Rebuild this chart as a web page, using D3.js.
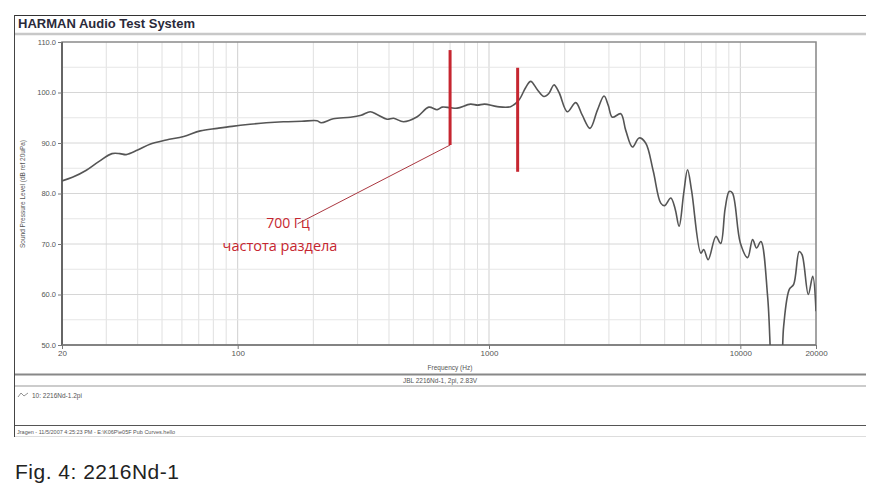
<!DOCTYPE html>
<html><head><meta charset="utf-8">
<script src="https://cdn.jsdelivr.net/npm/d3@7"></script>
<style>
body{margin:0;background:#fff;}
svg{display:block;font-family:"Liberation Sans",Arial,sans-serif;}
</style></head>
<body><svg id="c" width="880" height="490"></svg>
<script>
const freqs = [20,22,25,28,31.6,34,36,40,45,52,61,71,83,95,112,130,152,180,207,215,240,281,310,337,360,393,417,457,518,576,622,651,700,747,844,900,960,1079,1218,1315,1400,1465,1560,1655,1730,1813,1900,2050,2213,2350,2523,2700,2869,2980,3097,3343,3500,3722,3954,4200,4500,4823,5000,5287,5500,5707,5950,6165,6400,6966,7150,7447,7993,8350,8700,9030,9300,10000,10690,11190,11600,12070,12840,13300,13800,14400,14870,15660,16300,17150,17600,18640,19410,20000];
const spl = [82.5,83.2,84.6,86.3,87.9,87.9,87.7,88.6,89.8,90.6,91.3,92.4,92.9,93.3,93.7,94.0,94.2,94.3,94.4,94.0,94.8,95.1,95.5,96.2,95.6,94.7,94.9,94.2,95.2,97.1,96.6,97.1,97.0,96.9,97.7,97.5,97.7,97.2,97.2,98.5,101.0,102.2,100.5,99.2,99.8,101.5,100.0,96.2,98.0,95.5,92.9,96.5,99.3,97.5,95.1,95.8,92.5,89.2,91.0,90.0,84.5,78.1,77.6,79.1,77.0,73.5,80.0,84.7,80.5,68.2,68.9,66.9,71.5,70.1,77.0,80.4,80.1,70.2,67.3,70.9,69.2,70.5,59.6,45,38,40,53.7,61.0,62.0,68.5,67.9,60.0,63.6,56.7];
const xTickValues = [20,100,1000,10000,20000];
const xGridValues = [20,30,40,50,60,70,80,90,100,200,300,400,500,600,700,800,900,1000,2000,3000,4000,5000,6000,7000,8000,9000,10000,20000];
const yTickValues = [50,60,70,80,90,100,110];
const yGridValues = [55,60,65,70,75,80,85,90,95,100,105];
// crossover markers: [freq, dB from, dB to]
const markerLines = [[700,108.4,89.6],[1300,104.9,84.3]];
const pointerLine = [[700,89.6],[173,74.0]];
const annotationTexts = ["700 Гц","частота раздела"];
const titleText = "HARMAN Audio Test System";
const xLabel = "Frequency (Hz)";
const yLabel = "Sound Pressure Level (dB ref 20uPa)";
const chartTitle = "JBL 2216Nd-1, 2pi, 2.83V";
const legendText = "10: 2216Nd-1.2pi";
const statusText = "Jragen - 11/5/2007 4:25:23 PM - E:\\K06P\\e05F Pub Curves.hello";
const caption = "Fig. 4: 2216Nd-1";

const svg = d3.select("#c");
const L=62, R=816, T=42, B=345;
const x = d3.scaleLog().domain([20,20000]).range([L,R]);
const y = d3.scaleLinear().domain([50,110]).range([B,T]);

// window frame
svg.append("line").attr("x1",14).attr("x2",866).attr("y1",15.5).attr("y2",15.5).attr("stroke","#333").attr("stroke-width",1);
svg.append("line").attr("x1",14.5).attr("x2",14.5).attr("y1",15).attr("y2",437).attr("stroke","#444").attr("stroke-width",1);
svg.append("text").attr("x",18).attr("y",28).attr("font-size",13).attr("font-weight","bold").attr("fill","#2a2a3a").text(titleText);
svg.append("line").attr("x1",15).attr("x2",866).attr("y1",34).attr("y2",34).attr("stroke","#c8c8c8").attr("stroke-width",2.5);

// grid
const g = svg.append("g");
g.selectAll(".vg").data(xGridValues).join("line")
  .attr("x1",d=>x(d)).attr("x2",d=>x(d)).attr("y1",T).attr("y2",B)
  .attr("stroke",d=>[100,1000,10000].includes(d)?"#cfcfcf":"#e0e0e0").attr("stroke-width",1);
g.selectAll(".hg").data(yGridValues).join("line")
  .attr("x1",L).attr("x2",R).attr("y1",d=>y(d)).attr("y2",d=>y(d))
  .attr("stroke",d=>d%10===0?"#d6d6d6":"#e6e6e6").attr("stroke-width",1);

// frame
svg.append("rect").attr("x",L).attr("y",T).attr("width",R-L).attr("height",B-T).attr("fill","none").attr("stroke","#8a8a8a").attr("stroke-width",1.5);
svg.append("line").attr("x1",L).attr("x2",L).attr("y1",T).attr("y2",B).attr("stroke","#666").attr("stroke-width",2);
svg.append("line").attr("x1",L).attr("x2",R).attr("y1",B).attr("y2",B).attr("stroke","#777").attr("stroke-width",1.5);

// axes
const yAxis = d3.axisLeft(y).tickValues(yTickValues).tickFormat(d3.format(".1f")).tickSize(4);
const ya = svg.append("g").attr("transform",`translate(${L},0)`).call(yAxis);
ya.select(".domain").remove();
ya.selectAll("line").attr("stroke","#777");
ya.selectAll("text").attr("font-size",7.5).attr("fill","#555").attr("x",-6);
const xAxis = d3.axisBottom(x).tickValues(xTickValues).tickFormat(d3.format("d")).tickSize(4);
const xa = svg.append("g").attr("transform",`translate(0,${B})`).call(xAxis);
xa.select(".domain").remove();
xa.selectAll("line").attr("stroke","#777");
xa.selectAll("text").attr("font-size",8).attr("fill","#555").attr("dy","0.55em");

svg.append("text").attr("x",450).attr("y",370).attr("text-anchor","middle").attr("font-size",6.5).attr("fill","#555").text(xLabel);
svg.append("text").attr("transform","translate(25,194) rotate(-90)").attr("text-anchor","middle").attr("font-size",6.5).attr("fill","#555").text(yLabel);

// curve
svg.append("clipPath").attr("id","clip").append("rect").attr("x",L).attr("y",T).attr("width",R-L).attr("height",B-T);
const line = d3.line().x((d,i)=>x(freqs[i])).y(d=>y(d)).curve(d3.curveCatmullRom.alpha(0.5));
svg.append("path").datum(spl).attr("clip-path","url(#clip)").attr("d",line)
  .attr("fill","none").attr("stroke","#555").attr("stroke-width",1.6);

// annotations
const red="#c62630";
svg.selectAll(".mk").data(markerLines).join("line")
  .attr("x1",d=>x(d[0])).attr("x2",d=>x(d[0])).attr("y1",d=>y(d[1])).attr("y2",d=>y(d[2]))
  .attr("stroke",red).attr("stroke-width",3);
svg.append("line").attr("x1",x(pointerLine[0][0])).attr("y1",y(pointerLine[0][1]))
  .attr("x2",x(pointerLine[1][0])).attr("y2",y(pointerLine[1][1])).attr("stroke","#a0202a").attr("stroke-width",0.9);
svg.append("text").attr("x",288).attr("y",228).attr("text-anchor","middle").attr("font-size",14).attr("fill",red).attr("font-family","Open Sans, sans-serif").text(annotationTexts[0]);
svg.append("text").attr("x",280).attr("y",251).attr("text-anchor","middle").attr("font-size",14.5).attr("fill",red).attr("font-family","Open Sans, sans-serif").text(annotationTexts[1]);

// lower panels
svg.append("line").attr("x1",15).attr("x2",866).attr("y1",374.5).attr("y2",374.5).attr("stroke","#888").attr("stroke-width",2);
svg.append("line").attr("x1",15).attr("x2",866).attr("y1",386).attr("y2",386).attr("stroke","#999").attr("stroke-width",1);
svg.append("text").attr("x",440).attr("y",383).attr("text-anchor","middle").attr("font-size",6.5).attr("fill","#555").text(chartTitle);
svg.append("path").attr("d","M18,397 L21,393 L24,396 L28,393").attr("fill","none").attr("stroke","#777").attr("stroke-width",0.8);
svg.append("text").attr("x",32).attr("y",398).attr("font-size",6.5).attr("fill","#555").text(legendText);
svg.append("line").attr("x1",15).attr("x2",866).attr("y1",425.5).attr("y2",425.5).attr("stroke","#555").attr("stroke-width",1);
svg.append("text").attr("x",17).attr("y",434).attr("font-size",5.5).attr("fill","#555").text(statusText);
svg.append("line").attr("x1",15).attr("x2",866).attr("y1",436.5).attr("y2",436.5).attr("stroke","#ddd").attr("stroke-width",1);

svg.append("text").attr("x",15).attr("y",479).attr("font-size",21).attr("letter-spacing",0.5).attr("fill","#222").text(caption);
</script></body></html>
